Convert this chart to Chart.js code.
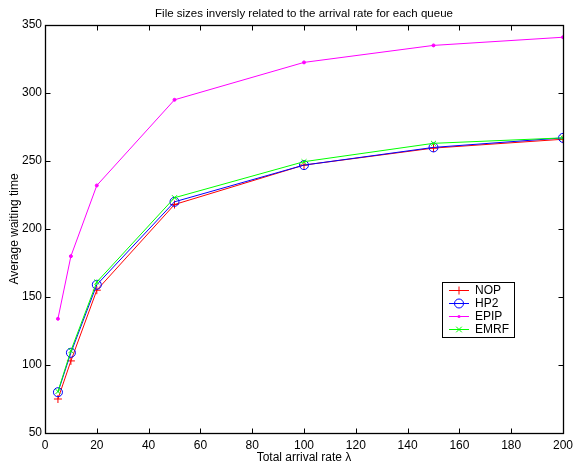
<!DOCTYPE html>
<html>
<head>
<meta charset="utf-8">
<script src="https://cdn.jsdelivr.net/npm/chart.js@4/dist/chart.umd.min.js"></script>
<style>
  html, body { margin: 0; padding: 0; background: #fff; }
  #wrap { width: 573px; height: 466px; }
</style>
</head>
<body>
<div id="wrap"><canvas id="c" width="573" height="466"></canvas></div>
<script>
const rates = [5, 10, 20, 50, 100, 150, 200];
const nop  = [75, 103, 155, 218, 247, 259.5, 266];
const hp2  = [80, 109, 159, 220, 247, 260, 267];
const epip = [134, 180, 232, 295, 322.5, 335, 341];
const emrf = [80.5, 110.5, 161, 223, 249.5, 263, 267];

const xTicks = [0, 20, 40, 60, 80, 100, 120, 140, 160, 180, 200];
const yTicks = [50, 100, 150, 200, 250, 300, 350];

const TITLE = 'File sizes inversly related to the arrival rate for each queue';
const FONT = '"Liberation Sans", Arial, Helvetica, sans-serif';

function pts(ys) { return rates.map((x, i) => ({ x: x, y: ys[i] })); }

const series = [
  { label: 'NOP',  data: nop,  color: '#ff0000', marker: 'cross',    r: 4,   order: 3 },
  { label: 'HP2',  data: hp2,  color: '#0000ff', marker: 'circle',   r: 4.5, order: 2 },
  { label: 'EPIP', data: epip, color: '#ff00ff', marker: 'dot',      r: 1.5, order: 1 },
  { label: 'EMRF', data: emrf, color: '#00ff00', marker: 'crossRot', r: 3.5, order: 0 }
];

// small marker painter, shared by the legend
function mark(ctx, type, x, y, r, color) {
  ctx.save();
  ctx.strokeStyle = color;
  ctx.fillStyle = color;
  ctx.lineWidth = 1;
  ctx.beginPath();
  if (type === 'cross') {
    ctx.moveTo(x - r, y); ctx.lineTo(x + r, y);
    ctx.moveTo(x, y - r); ctx.lineTo(x, y + r);
    ctx.stroke();
  } else if (type === 'crossRot') {
    const d = r * 0.8;
    ctx.moveTo(x - d, y - d); ctx.lineTo(x + d, y + d);
    ctx.moveTo(x + d, y - d); ctx.lineTo(x - d, y + d);
    ctx.stroke();
  } else if (type === 'circle') {
    ctx.arc(x, y, r, 0, Math.PI * 2);
    ctx.stroke();
  } else {
    ctx.arc(x, y, r, 0, Math.PI * 2);
    ctx.fill();
  }
  ctx.restore();
}

// box around the axes with inward ticks on all four sides, title centred over the axes
const frame = {
  id: 'frame',
  afterDatasetsDraw(chart) {
    const ctx = chart.ctx, a = chart.chartArea;
    const xs = chart.scales.x, ys = chart.scales.y;
    const L = Math.round(a.left) + 0.5, R = Math.round(a.right) + 0.5;
    const T = Math.round(a.top) + 0.5, B = Math.round(a.bottom) + 0.5;
    const len = 5;
    ctx.save();
    ctx.strokeStyle = '#000';
    ctx.lineWidth = 1;
    ctx.beginPath();
    xTicks.forEach(v => {
      const p = Math.round(xs.getPixelForValue(v)) + 0.5;
      ctx.moveTo(p, B); ctx.lineTo(p, B - len);
      ctx.moveTo(p, T); ctx.lineTo(p, T + len);
    });
    yTicks.forEach(v => {
      const p = Math.round(ys.getPixelForValue(v)) + 0.5;
      ctx.moveTo(L, p); ctx.lineTo(L + len, p);
      ctx.moveTo(R, p); ctx.lineTo(R - len, p);
    });
    ctx.stroke();
    ctx.lineWidth = 1.3;
    ctx.strokeRect(L, T, R - L, B - T);

    ctx.fillStyle = '#000';
    ctx.font = '11.5px ' + FONT;
    ctx.textAlign = 'center';
    ctx.textBaseline = 'middle';
    ctx.fillText(TITLE, (a.left + a.right) / 2, 13.5);
    ctx.restore();
  }
};

// boxed legend sitting inside the plot, lower right
const boxLegend = {
  id: 'boxLegend',
  afterDraw(chart) {
    const ctx = chart.ctx;
    const bx = 442.5, by = 282.5, bw = 72, bh = 55;
    ctx.save();
    ctx.fillStyle = '#fff';
    ctx.fillRect(bx, by, bw, bh);
    ctx.strokeStyle = '#000';
    ctx.lineWidth = 1;
    ctx.strokeRect(bx, by, bw, bh);
    ctx.font = '12px ' + FONT;
    ctx.textBaseline = 'middle';
    series.forEach((s, i) => {
      const y = 290 + i * 13;
      ctx.strokeStyle = s.color;
      ctx.beginPath();
      ctx.moveTo(449, y + 0.5); ctx.lineTo(469, y + 0.5);
      ctx.stroke();
      mark(ctx, s.marker, 459, y + 0.5, s.r, s.color);
      ctx.fillStyle = '#000';
      ctx.fillText(s.label, 475, y + 1);
    });
    ctx.restore();
  }
};

new Chart(document.getElementById('c'), {
  type: 'line',
  data: {
    datasets: series.map(s => ({
      label: s.label,
      data: pts(s.data),
      borderColor: s.color,
      backgroundColor: s.marker === 'dot' ? s.color : 'rgba(0,0,0,0)',
      borderWidth: 1,
      pointStyle: s.marker === 'dot' ? 'circle' : s.marker,
      pointRadius: s.r,
      pointBorderColor: s.color,
      pointBackgroundColor: s.marker === 'dot' ? s.color : 'rgba(0,0,0,0)',
      pointBorderWidth: 1,
      tension: 0,
      order: s.order
    }))
  },
  options: {
    responsive: false,
    animation: false,
    devicePixelRatio: 1,
    layout: { padding: { left: 0, right: 10, top: 25, bottom: 0 } },
    plugins: {
      legend: { display: false },
      tooltip: { enabled: false },
      title: { display: false }
    },
    scales: {
      x: {
        type: 'linear',
        min: 0, max: 200,
        afterBuildTicks: s => { s.ticks = xTicks.map(v => ({ value: v })); },
        afterFit: s => { s.height = 33; s.paddingLeft = 0; s.paddingRight = 0; },
        grid: { display: false, drawTicks: false },
        border: { display: false },
        ticks: { color: '#000', padding: 5, maxRotation: 0, font: { family: FONT, size: 12 } },
        title: {
          display: true,
          text: 'Total arrival rate λ',
          color: '#000',
          font: { family: FONT, size: 12 },
          padding: { top: 0, bottom: 1 }
        }
      },
      y: {
        min: 50, max: 350,
        afterBuildTicks: s => { s.ticks = yTicks.map(v => ({ value: v })); },
        afterFit: s => { s.width = 45; s.paddingTop = 0; s.paddingBottom = 0; },
        grid: { display: false, drawTicks: false },
        border: { display: false },
        ticks: { color: '#000', padding: 3, font: { family: FONT, size: 12 } },
        title: {
          display: true,
          text: 'Average waiting time',
          color: '#000',
          font: { family: FONT, size: 12 },
          padding: { top: 7, bottom: 0 }
        }
      }
    }
  },
  plugins: [frame, boxLegend]
});
</script>
</body>
</html>
